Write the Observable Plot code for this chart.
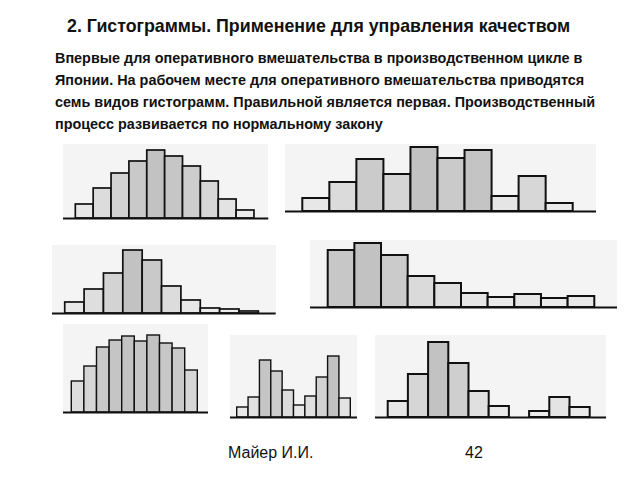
<!DOCTYPE html>
<html><head><meta charset="utf-8">
<script src="https://cdn.jsdelivr.net/npm/d3@7"></script>
<script src="https://cdn.jsdelivr.net/npm/@observablehq/plot@0.6"></script>
<style>
body{margin:0;background:#fff;}
#page{position:relative;width:640px;height:480px;overflow:hidden;font-family:"Liberation Sans",Arial,sans-serif;color:#111;}
.t{position:absolute;white-space:nowrap;line-height:1;}
.h{position:absolute;}
.h svg{display:block;}
</style></head><body><div id="page"></div>
<script>
// ---- texts ----
const titleText = "2. Гистограммы. Применение для управления качеством";
const bodyLines = [
  "Впервые для оперативного вмешательства в производственном цикле в",
  "Японии. На рабочем месте для оперативного вмешательства приводятся",
  "семь видов гистограмм. Правильной является первая. Производственный",
  "процесс развивается по нормальному закону"
];
const footerAuthor = "Майер И.И.";
const footerPage = "42";

// ---- histogram values (bin counts, left to right) ----
const hist1 = [14, 30, 45, 57, 68, 62, 52, 37, 19, 8];
const hist2 = [13, 29, 52, 37, 64, 53, 61, 15, 35, 8];
const hist3 = [11, 24, 40, 63, 53, 27, 13, 5, 4, 2];
const hist4 = [57, 64, 52, 31, 24, 14, 10, 13, 9, 11];
const hist5 = [31, 46, 65, 72, 76, 71, 77, 69, 64, 42];
const hist6 = [10, 20, 57, 46, 27, 12, 21, 40, 61, 19];
const hist7 = [16, 43, 75, 54, 26, 11, 0, 6, 20, 10];

// ---- layout (positions/sizes only) ----
const layout = [
  {data: hist1, left: 62.7, top: 144, right: 268, baseline: 218, barStart: 75, barW: 17.87, sw: 1.7},
  {data: hist2, left: 285, top: 144, right: 596, baseline: 211, barStart: 302.3, barW: 27.04, sw: 2},
  {data: hist3, left: 52.3, top: 245, right: 276, baseline: 312.5, barStart: 65, barW: 19.37, sw: 1.7},
  {data: hist4, left: 310, top: 240, right: 617, baseline: 307, barStart: 327.7, barW: 26.66, sw: 2},
  {data: hist5, left: 63, top: 324, right: 208, baseline: 411.5, barStart: 71.3, barW: 12.6, sw: 1.4},
  {data: hist6, left: 230, top: 335, right: 357, baseline: 417.3, barStart: 236.7, barW: 11.36, sw: 1.4},
  {data: hist7, left: 375, top: 335, right: 606, baseline: 417.3, barStart: 387.7, barW: 20.2, sw: 2}
];

const page = document.getElementById("page");
function addText(txt, left, top, size, weight) {
  const d = document.createElement("div");
  d.className = "t";
  d.textContent = txt;
  d.style.left = left + "px";
  d.style.top = top + "px";
  d.style.fontSize = size + "px";
  d.style.fontWeight = weight;
  page.appendChild(d);
}
addText(titleText, 67, 17.5, 17.8, "bold");
bodyLines.forEach((l, i) => addText(l, 55, 50.5 + i * 22, 14.4, "bold"));
addText(footerAuthor, 228, 445, 16, "normal");
addText(footerPage, 465, 445, 16, "normal");

layout.forEach(p => {
  const rows = p.data.map((v, i) => ({i, v}));
  const max = d3.max(p.data);
  const width = p.right - p.left;
  const height = Math.round(p.baseline - p.top) + 1;
  const x0 = -(p.barStart - p.left) / p.barW;
  const x1 = x0 + width / p.barW;
  const chart = Plot.plot({
    width, height,
    marginTop: 0, marginLeft: 0, marginRight: 0, marginBottom: 1,
    x: {domain: [x0, x1], axis: null},
    y: {domain: [0, height - 1], axis: null},
    color: {type: "linear", domain: [0, 1], range: ["#f0f0f0", "#c2c2c2"]},
    style: {background: "#f4f4f4", overflow: "visible"},
    marks: [
      Plot.rectY(rows, {x1: "i", x2: d => d.i + 1, y: "v", fill: d => d.v / max,
        stroke: "#111", strokeWidth: p.sw, filter: d => d.v > 0}),
      Plot.ruleY([0], {stroke: "#111", strokeWidth: 2})
    ]
  });
  const wrap = document.createElement("div");
  wrap.className = "h";
  wrap.style.left = p.left + "px";
  wrap.style.top = (p.baseline - (height - 1)) + "px";
  wrap.appendChild(chart);
  page.appendChild(wrap);
});
</script></body></html>
